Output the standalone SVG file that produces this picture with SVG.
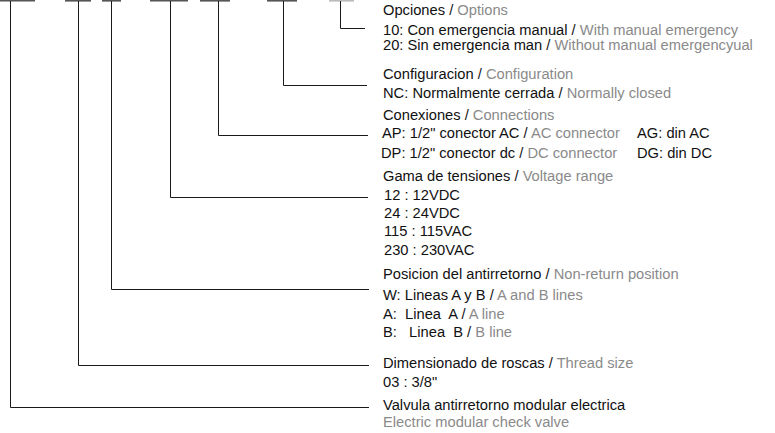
<svg xmlns="http://www.w3.org/2000/svg" width="775" height="433" viewBox="0 0 775 433">
<style>
text{font-family:"Liberation Sans",Arial,sans-serif;font-size:14.7px;fill:#111;white-space:pre}
.g{fill:#8a8a8a}
.bar{stroke:#555;stroke-width:1.6;fill:none}
.bar7{stroke:#bbb;stroke-width:1.6;fill:none}
.ln{stroke:#1a1a1a;stroke-width:1;fill:none}
</style>
<rect width="775" height="433" fill="#fff"/>
<g id="code-bars">
<line class="bar" x1="0" y1="0.8" x2="35" y2="0.8"/>
<line class="bar" x1="65" y1="0.8" x2="91" y2="0.8"/>
<line class="bar" x1="102" y1="0.8" x2="121" y2="0.8"/>
<line class="bar" x1="150" y1="0.8" x2="188" y2="0.8"/>
<line class="bar" x1="200" y1="0.8" x2="230" y2="0.8"/>
<line class="bar" x1="267" y1="0.8" x2="297" y2="0.8"/>
<line class="bar7" x1="329" y1="0.8" x2="354" y2="0.8"/>
</g>
<g id="connectors">
<polyline class="ln" points="340.5,1 340.5,28.5 365,28.5"/>
<polyline class="ln" points="283.5,1 283.5,85.5 367,85.5"/>
<polyline class="ln" points="218.5,1 218.5,135.5 368,135.5"/>
<polyline class="ln" points="170.5,1 170.5,197.5 368,197.5"/>
<polyline class="ln" points="111.5,1 111.5,289.5 369,289.5"/>
<polyline class="ln" points="78.5,1 78.5,365.5 369,365.5"/>
<polyline class="ln" points="10.5,1 10.5,407.5 369,407.5"/>
</g>
<g id="opciones">
<text x="383" y="14.5">Opciones / <tspan class="g">Options</tspan></text>
<text x="383" y="34.5">10: Con emergencia manual / <tspan class="g">With manual emergency</tspan></text>
<text x="383" y="49.5">20: Sin emergencia man / <tspan class="g">Without manual emergencyual</tspan></text>
</g>
<g id="configuracion">
<text x="383" y="79">Configuracion / <tspan class="g">Configuration</tspan></text>
<text x="383" y="97.5">NC: Normalmente cerrada / <tspan class="g">Normally closed</tspan></text>
</g>
<g id="conexiones">
<text x="383" y="120">Conexiones / <tspan class="g">Connections</tspan></text>
<text x="382" y="138">AP: 1/2" conector AC / <tspan class="g">AC connector</tspan></text>
<text x="637" y="138">AG: din AC</text>
<text x="381" y="157.5">DP: 1/2" conector dc / <tspan class="g">DC connector</tspan></text>
<text x="637" y="157.5">DG: din DC</text>
</g>
<g id="tensiones">
<text x="383" y="180.5">Gama de tensiones / <tspan class="g">Voltage range</tspan></text>
<text x="384" y="200">12 : 12VDC</text>
<text x="384" y="218">24 : 24VDC</text>
<text x="384" y="236">115 : 115VAC</text>
<text x="384" y="255">230 : 230VAC</text>
</g>
<g id="posicion">
<text x="383" y="278.5">Posicion del antirretorno / <tspan class="g">Non-return position</tspan></text>
<text x="383" y="299.5">W: Lineas A y B / <tspan class="g">A and B lines</tspan></text>
<text x="383" y="318.5">A:  Linea  A / <tspan class="g">A line</tspan></text>
<text x="383" y="336.5">B:   Linea  B / <tspan class="g">B line</tspan></text>
</g>
<g id="roscas">
<text x="383" y="367.5">Dimensionado de roscas / <tspan class="g">Thread size</tspan></text>
<text x="383" y="386.5">03 : 3/8"</text>
</g>
<g id="valvula">
<text x="383" y="410">Valvula antirretorno modular electrica</text>
<text x="383" y="427" class="g">Electric modular check valve</text>
</g>
</svg>
